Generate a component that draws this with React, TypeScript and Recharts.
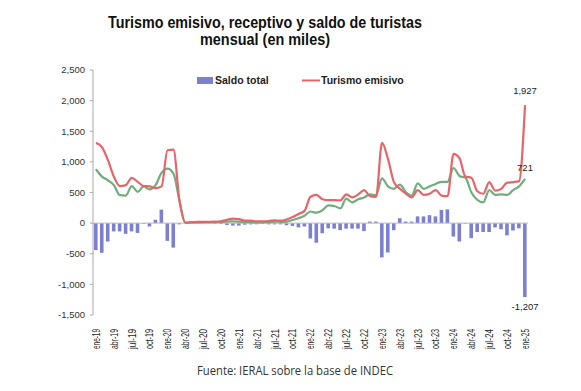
import {
  ComposedChart,
  Bar,
  Line,
  XAxis,
  YAxis,
  ReferenceLine,
  ReferenceDot,
  LabelList,
} from 'recharts';

const MESES = ['ene', 'feb', 'mar', 'abr', 'may', 'jun', 'jul', 'ago', 'sep', 'oct', 'nov', 'dic'];
const ANIOS = ['19', '20', '21', '22', '23', '24', '25'];

// miles de turistas, ene-19 .. ene-25
const emisivo = [
  1310, 1240, 1030, 760, 605, 620, 740, 675, 605, 600, 570, 600,
  1190, 1200, 375, 10, 15, 20, 20, 20, 25, 30, 55, 75,
  65, 40, 40, 30, 30, 35, 45, 40, 60, 100, 150, 200,
  430, 460, 390, 375, 375, 370, 470, 420, 470, 540, 440, 430,
  1310, 1050, 670, 560, 480, 420, 540, 460, 480, 540, 450, 440,
  1130, 1060, 760, 740, 520, 480, 670, 530, 560, 660, 670, 685,
  1927,
];

const receptivo = [
  880, 760, 700, 620, 457, 450, 605, 511, 600, 550, 620, 820,
  890, 810, 370, 5, 10, 10, 15, 15, 15, 20, 25, 30,
  25, 15, 15, 10, 15, 15, 25, 20, 25, 50, 80, 120,
  190, 170, 210, 290, 280, 240, 400, 340, 390, 420, 470, 455,
  730, 600, 560, 630, 505, 450, 650, 560, 600, 640, 675, 675,
  900, 770, 740, 500, 380, 340, 540, 460, 470, 460, 540, 600,
  721,
];

const saldo = [
  -440, -485, -300, -135, -135, -175, -135, -160, -10, -55, 55, 220,
  -290, -400, -20, 0, -5, -5, -5, -5, -10, -15, -30, -40,
  -40, -25, -20, -20, -15, -20, -20, -20, -35, -45, -70, -55,
  -250, -320, -165, -85, -90, -115, -90, -90, -90, -130, 25, 25,
  -560, -480, -115, 80, 25, 25, 110, 110, 130, 110, 215, 225,
  -220, -300, -10, -245, -145, -145, -145, -70, -100, -200, -120, -85,
  -1207,
];

const Y_TICKS = [-1500, -1000, -500, 0, 500, 1000, 1500, 2000, 2500];

const meses: string[] = [];
ANIOS.forEach((a) => MESES.forEach((m) => meses.push(`${m}-${a}`)));
meses.length = emisivo.length;

const data = meses.map((mes, i) => ({
  mes,
  emisivo: emisivo[i],
  receptivo: receptivo[i],
  saldo: saldo[i],
}));

const LAST = data.length - 1;
const BAR_COLOR = '#7c80cf';
const RED = '#e8646b';
const GREEN = '#70ae7d';
const FONT = '"Liberation Sans", Arial, sans-serif';

const fmt = (v: number) => v.toLocaleString('en-US');

const XTick = (props: any) => {
  const { x, y, payload } = props;
  return (
    <text
      transform={`translate(${x + 3.8},${y + 6}) rotate(-90)`}
      textAnchor="end"
      fontSize={10.5}
      fontFamily={FONT}
      fill="#222"
      textLength={20}
      lengthAdjust="spacingAndGlyphs"
    >
      {payload.value}
    </text>
  );
};

const lastLabel = (dy: number) => (props: any) => {
  const { x, y, index, value } = props;
  if (index !== LAST) return null;
  return (
    <text x={x} y={y + dy} textAnchor="middle" fontSize={9.5} fontFamily={FONT} fill="#222">
      {fmt(value)}
    </text>
  );
};

export default function App() {
  return (
    <div style={{ position: 'absolute', left: 0, top: 0, width: 581, height: 391, background: '#fff' }}>
      <svg width={581} height={391} style={{ position: 'absolute', left: 0, top: 0 }}>
        <text x={265} y={28} textAnchor="middle" fontSize={16} fontWeight={700} fontFamily={FONT} fill="#111"
          textLength={314} lengthAdjust="spacingAndGlyphs">
          Turismo emisivo, receptivo y saldo de turistas
        </text>
        <text x={265} y={45} textAnchor="middle" fontSize={16} fontWeight={700} fontFamily={FONT} fill="#111"
          textLength={130} lengthAdjust="spacingAndGlyphs">
          mensual (en miles)
        </text>
        <rect x={197} y={77} width={16} height={7} fill={BAR_COLOR} />
        <text x={215} y={84} fontSize={10.5} fontWeight={700} fontFamily={FONT} fill="#222">Saldo total</text>
        <line x1={302} y1={80.5} x2={320} y2={80.5} stroke={RED} strokeWidth={2} />
        <text x={321} y={84} fontSize={10.5} fontWeight={700} fontFamily={FONT} fill="#222">Turismo emisivo</text>
        <text x={295} y={375} textAnchor="middle" fontSize={12} fontFamily='"Open Sans", sans-serif' fill="#333"
          textLength={196} lengthAdjust="spacingAndGlyphs">
          Fuente: IERAL sobre la base de INDEC
        </text>
      </svg>
      <div style={{ position: 'absolute', left: 0, top: 0 }}>
        <ComposedChart
          width={581}
          height={391}
          data={data}
          margin={{ top: 70, right: 53, bottom: 0, left: 0 }}
          barSize={3.6}
        >
          <XAxis
            dataKey="mes"
            interval={2}
            axisLine={false}
            tickLine={false}
            height={76}
            tick={<XTick />}
          />
          <YAxis
            width={93}
            domain={[-1500, 2500]}
            ticks={Y_TICKS}
            tickFormatter={fmt}
            axisLine={{ stroke: '#aaa' }}
            tickLine={{ stroke: '#aaa' }}
            tickSize={3}
            tickMargin={5}
            tick={{ fontSize: 9.5, fill: '#333', fontFamily: FONT }}
            allowDataOverflow
          />
          <ReferenceLine y={0} stroke="#bbb" strokeWidth={1} />
          <Bar dataKey="saldo" fill={BAR_COLOR} isAnimationActive={false} />
          <Line
            type="monotone"
            dataKey="receptivo"
            stroke={GREEN}
            strokeWidth={2.2}
            dot={false}
            isAnimationActive={false}
          >
            <LabelList dataKey="receptivo" content={lastLabel(-8)} />
          </Line>
          <Line
            type="monotone"
            dataKey="emisivo"
            stroke={RED}
            strokeWidth={2.2}
            dot={false}
            isAnimationActive={false}
          >
            <LabelList dataKey="emisivo" content={lastLabel(-11)} />
          </Line>
          <ReferenceDot
            x={meses[LAST]}
            y={saldo[LAST]}
            r={0}
            fill="none"
            stroke="none"
            ifOverflow="visible"
            label={{
              value: fmt(saldo[LAST]),
              position: 'bottom',
              offset: 6,
              fontSize: 9.5,
              fontFamily: FONT,
              fill: '#222',
            }}
          />
        </ComposedChart>
      </div>
    </div>
  );
}
